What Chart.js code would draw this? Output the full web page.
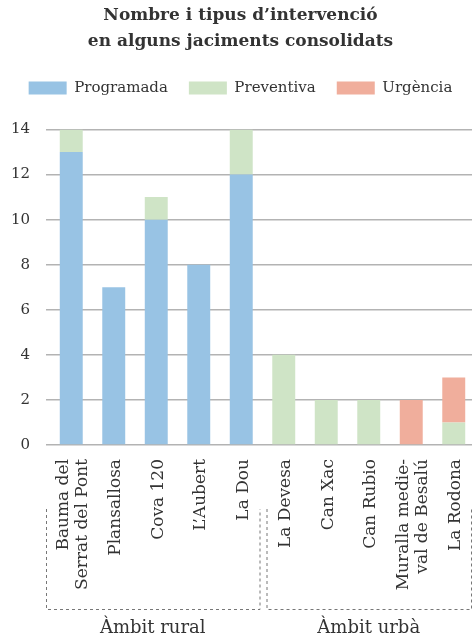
<!DOCTYPE html>
<html>
<head>
<meta charset="utf-8">
<script src="https://cdn.jsdelivr.net/npm/chart.js@4.4.1/dist/chart.umd.min.js"></script>
<style>
  html, body { margin: 0; padding: 0; background: #fff; overflow: hidden; }
  #wrap { width: 481px; height: 641px; }
</style>
</head>
<body>
<div id="wrap"><canvas id="myChart"></canvas></div>
<script>
// dades
var categories = [
    ["Bauma del", "Serrat del Pont"], "Plansallosa", "Cova 120", "L’Aubert", "La Dou",
    "La Devesa", "Can Xac", "Can Rubio", ["Muralla medie-", "val de Besalú"], "La Rodona"
];
var programada = [13, 7, 10, 8, 12, 0, 0, 0, 0, 0];
var preventiva = [1, 0, 1, 0, 2, 4, 2, 2, 0, 1];
var urgencia   = [0, 0, 0, 0, 0, 0, 0, 0, 2, 2];
var yTicks = [0, 2, 4, 6, 8, 10, 12, 14];
var groups = [
    { label: "Àmbit rural", from: 0, to: 4 },
    { label: "Àmbit urbà", from: 5, to: 9 }
];

var serif = "'DejaVu Serif', serif";
var xFontSize = 17;
var xLineHeight = 1.12;

// les etiquetes de dues línies es centren sobre la barra
var centerLabels = {
    id: 'centerLabels',
    beforeDraw: function (chart) {
        var items = chart.scales.x.getLabelItems();
        items.forEach(function (it) {
            if (Array.isArray(it.label) && !it._shifted) {
                it.options.translation[0] -= (it.label.length - 1) * xFontSize * xLineHeight / 2;
                it._shifted = true;
            }
        });
    }
};

// caixes discontínues dels grups
var groupBoxes = {
    id: 'groupBoxes',
    afterDraw: function (chart) {
        var ctx = chart.ctx;
        var x = chart.scales.x;
        var area = chart.chartArea;
        var half = (x.getPixelForValue(1) - x.getPixelForValue(0)) / 2;
        var top = area.bottom + 64;
        var bottom = area.bottom + 164;
        ctx.save();
        ctx.strokeStyle = '#777';
        ctx.lineWidth = 1;
        ctx.setLineDash([3, 3]);
        groups.forEach(function (g, i) {
            var left = i === 0 ? area.left - 4 : x.getPixelForValue(g.from) - half + 4;
            var right = i === groups.length - 1 ? area.right - 4 : x.getPixelForValue(g.to) + half - 3;
            ctx.beginPath();
            ctx.moveTo(left + 0.5, top);
            ctx.lineTo(left + 0.5, bottom + 0.5);
            ctx.lineTo(right + 0.5, bottom + 0.5);
            ctx.lineTo(right + 0.5, top);
            ctx.stroke();
            ctx.fillStyle = '#333';
            ctx.font = "18px " + serif;
            ctx.textAlign = 'center';
            ctx.textBaseline = 'middle';
            ctx.fillText(g.label, (left + right) / 2, area.bottom + 183);
        });
        ctx.restore();
    }
};

var ctx = document.getElementById('myChart').getContext('2d');
var myChart = new Chart(ctx, {
    type: 'bar',
    data: {
        labels: categories,
        datasets: [{
            label: 'Programada',
            data: programada,
            backgroundColor: '#98c3e4'
        }, {
            label: 'Preventiva',
            data: preventiva,
            backgroundColor: '#cfe4c6'
        }, {
            label: 'Urgència',
            data: urgencia,
            backgroundColor: '#f0ae9c'
        }]
    },
    options: {
        responsive: true,
        maintainAspectRatio: false,
        animation: false,
        categoryPercentage: 1,
        barPercentage: 0.54,
        layout: {
            padding: { top: 0, right: 0, bottom: 0, left: 0 }
        },
        scales: {
            x: {
                stacked: true,
                grid: { display: false },
                border: { display: false },
                afterFit: function (scale) {
                    scale.height = 196;
                    scale.paddingLeft = 0;
                    scale.paddingRight = 6;
                },
                ticks: {
                    autoSkip: false,
                    maxRotation: 90,
                    minRotation: 90,
                    padding: 6,
                    labelOffset: 2,
                    color: '#333',
                    font: { family: serif, size: xFontSize, lineHeight: xLineHeight }
                }
            },
            // espai buit entre la llegenda i el gràfic
            xTop: {
                position: 'top',
                grid: { display: false },
                border: { display: false },
                ticks: { display: false },
                afterFit: function (scale) {
                    scale.height = 24;
                    scale.paddingLeft = 0;
                    scale.paddingRight = 6;
                }
            },
            y: {
                stacked: true,
                min: 0,
                max: 14,
                afterFit: function (scale) { scale.width = 50; },
                afterBuildTicks: function (scale) {
                    scale.ticks = yTicks.map(function (v) { return { value: v }; });
                },
                border: { display: false },
                grid: {
                    color: '#b3b3b3',
                    lineWidth: 1.5,
                    tickLength: 4
                },
                ticks: {
                    padding: 16,
                    color: '#333',
                    font: { family: serif, size: 15 }
                }
            }
        },
        plugins: {
            title: {
                display: true,
                text: ['Nombre i tipus d’intervenció', 'en alguns jaciments consolidats'],
                color: '#333',
                font: { family: serif, size: 17, weight: 'bold', lineHeight: 1.5 },
                padding: { top: 3, bottom: 5.5 }
            },
            legend: {
                display: true,
                labels: {
                    boxWidth: 38,
                    boxHeight: 13,
                    padding: 21,
                    color: '#333',
                    font: { family: serif, size: 15 }
                }
            },
            tooltip: { enabled: false }
        }
    },
    plugins: [centerLabels, groupBoxes]
});
</script>
</body>
</html>
